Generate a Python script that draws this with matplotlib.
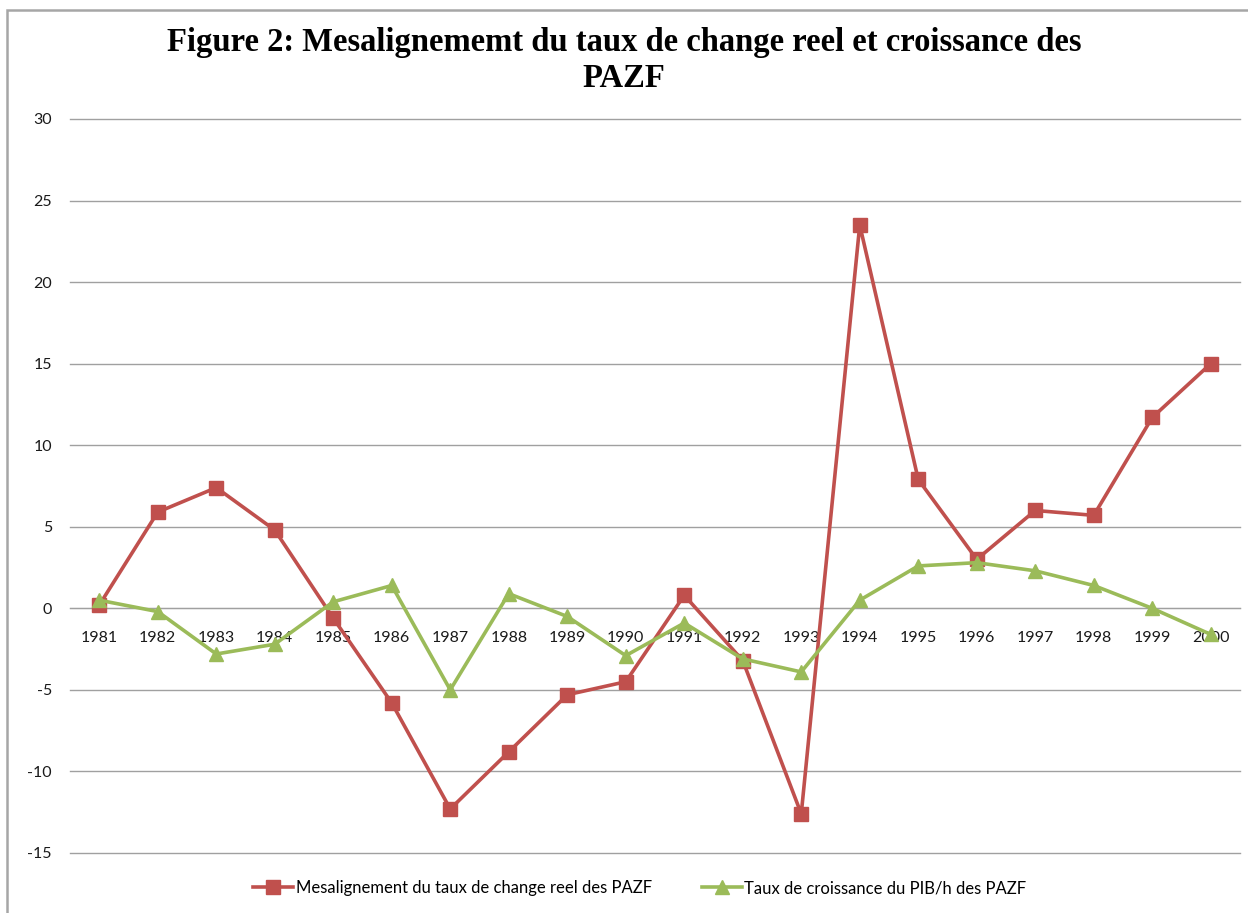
import matplotlib
matplotlib.use("Agg")
import matplotlib.pyplot as plt
from matplotlib.patches import Rectangle

years = [str(y) for y in range(1981, 2001)]
mesalignement = [0.2, 5.9, 7.4, 4.8, -0.6, -5.8, -12.3, -8.8, -5.3, -4.5,
                 0.8, -3.2, -12.6, 23.5, 7.9, 3.0, 6.0, 5.7, 11.7, 15.0]
croissance = [0.5, -0.2, -2.8, -2.2, 0.4, 1.4, -5.0, 0.9, -0.5, -2.9,
              -0.9, -3.1, -3.9, 0.5, 2.6, 2.8, 2.3, 1.4, 0.0, -1.6]
yticks = [-15, -10, -5, 0, 5, 10, 15, 20, 25, 30]

title = "Figure 2: Mesalignememt du taux de change reel et croissance des\nPAZF"
label_red = "Mesalignement du taux de change reel des PAZF"
label_green = "Taux de croissance du PIB/h des PAZF"

W, H = 1248, 913
fig = plt.figure(figsize=(W / 100, H / 100), dpi=100)
fig.patch.set_facecolor("white")

# outer chart border
fig.patches.append(Rectangle((7 / W, -0.01), 1.05, 1 - 10 / H + 0.01,
                             transform=fig.transFigure, fill=False,
                             edgecolor="#a6a6a6", linewidth=1.8))

ax = fig.add_axes([70 / W, 1 - 853 / H, (1240 - 70) / W, (853 - 119) / H])
x = list(range(len(years)))
ax.plot(x, mesalignement, color="#C0504D", linewidth=2.6, marker="s",
        markersize=9.5, label=label_red, zorder=3)
ax.plot(x, croissance, color="#9BBB59", linewidth=2.6, marker="^",
        markersize=10.5, label=label_green, zorder=3)

ax.set_xlim(-0.5, len(years) - 0.5)
ax.set_ylim(-15, 30)
ax.set_yticks(yticks)
ax.set_yticklabels([str(v) for v in yticks])
ax.yaxis.grid(True, color="#a0a0a0", linewidth=1.0)
for gl in ax.yaxis.get_gridlines():
    gl.set_clip_on(False)
ax.set_axisbelow(True)

for s in ["top", "right", "left"]:
    ax.spines[s].set_visible(False)
ax.spines["bottom"].set_position(("data", 0))
ax.spines["bottom"].set_color("#a0a0a0")
ax.set_xticks(x)
ax.set_xticklabels(years)
ax.tick_params(axis="x", length=0, pad=16, labelsize=11.5, labelcolor="#1a1a1a")
ax.tick_params(axis="y", length=0, pad=13, labelsize=11.5, labelcolor="#1a1a1a")
for lbl in ax.get_xticklabels() + ax.get_yticklabels():
    lbl.set_fontfamily("Lato")

fig.text(0.5, 1 - 27 / H, title, ha="center", va="top", fontsize=23.5,
         fontweight="bold", family="Liberation Serif", linespacing=1.22)

leg = fig.legend(loc="center", bbox_to_anchor=(640 / W, 1 - 888 / H), ncol=2,
                 frameon=False, prop={"family": "Lato", "size": 12},
                 handlelength=2.4, columnspacing=3.0, handletextpad=0.15)

fig.savefig("out.png", dpi=100)
